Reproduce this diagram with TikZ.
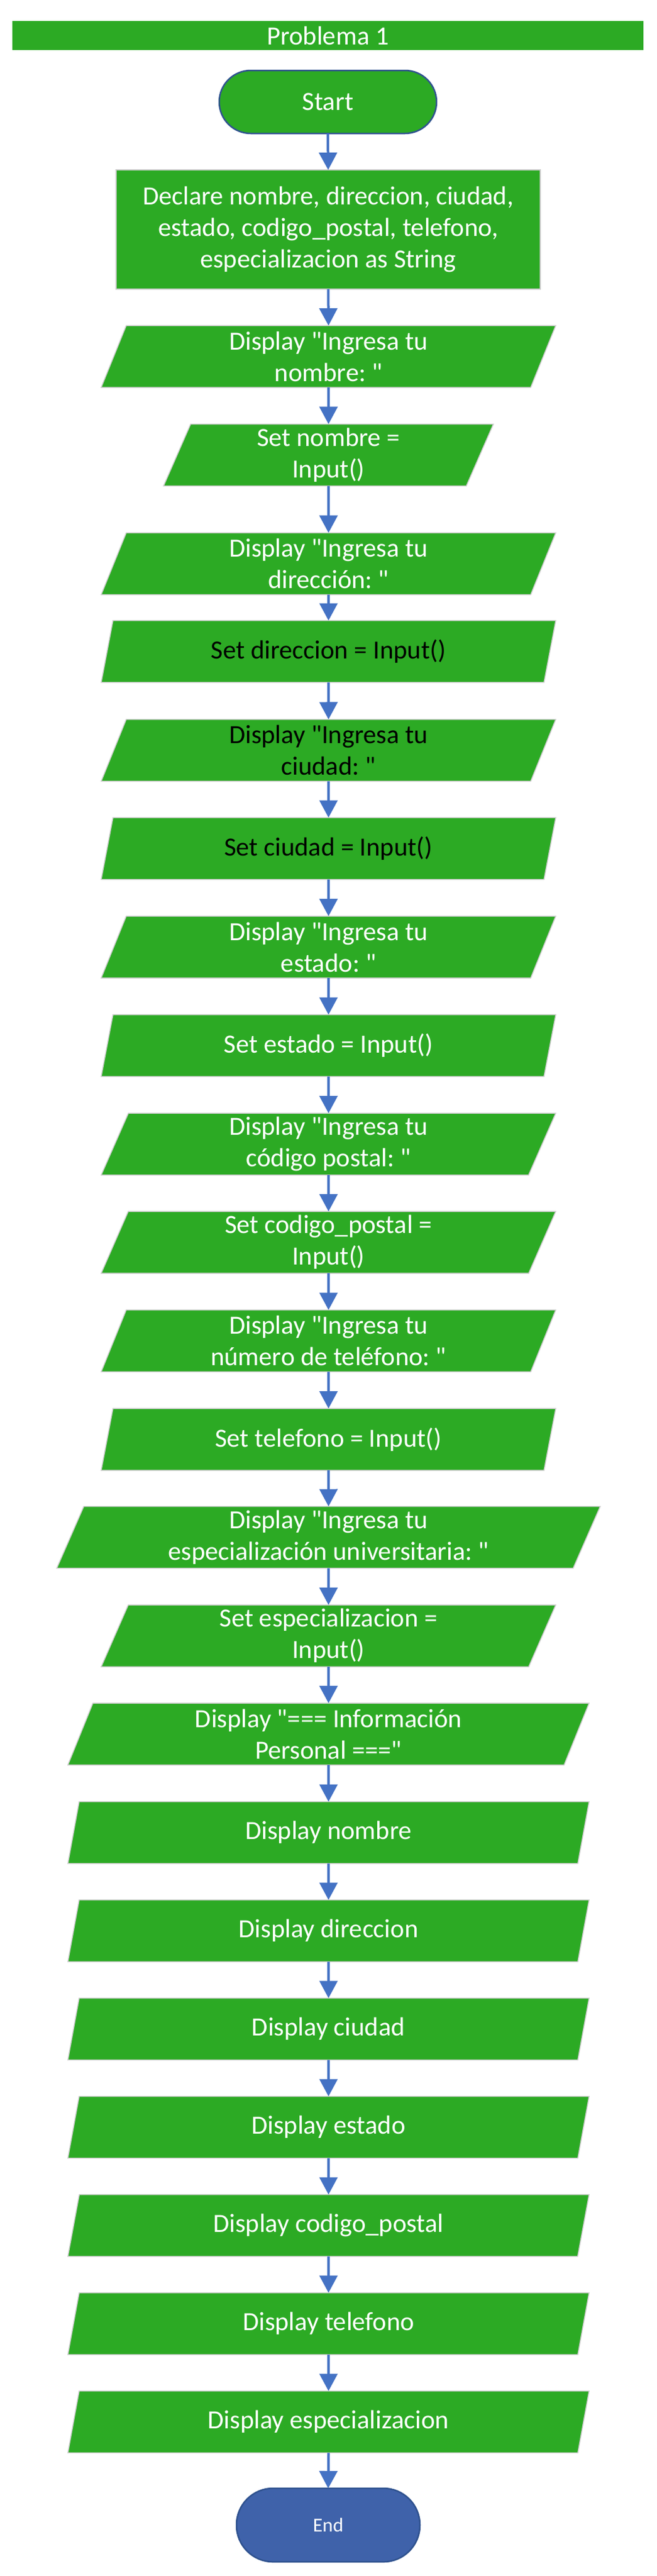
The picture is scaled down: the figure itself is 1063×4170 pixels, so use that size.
\documentclass[tikz,border=0pt]{standalone}
\usepackage{fontspec}
\setmainfont{Carlito}[Ligatures=TeXOff]
\usetikzlibrary{shapes.geometric,arrows.meta}
\definecolor{flowgreen}{RGB}{44,170,36}
\definecolor{flowblue}{RGB}{68,114,196}
\definecolor{endblue}{RGB}{63,98,170}
\definecolor{edgeblue}{RGB}{47,82,143}
\frenchspacing

\begin{document}
\begin{tikzpicture}[x=1pt,y=1pt,
  every node/.style={inner sep=0pt, outer sep=0pt, align=center, text=white,
    font=\fontsize{42.5}{51}\selectfont},
  box/.style={rectangle, fill=flowgreen, draw=black!20, line width=1.5pt},
  io/.style={trapezium, trapezium left angle=63.4, trapezium right angle=116.6,
    trapezium stretches body, fill=flowgreen, draw=black!20, line width=1.5pt,
    minimum height=100pt, minimum width=#1},
  io/.default=736pt,
  term/.style={rectangle, rounded corners=#1, line width=2.5pt, draw=edgeblue},
  flow/.style={draw=flowblue, line width=4pt, -{Triangle[length=28pt,width=29pt]}}]
\fill [white] (0,0) rectangle (1063,-4170);
\useasboundingbox (0,0) rectangle (1063,-4170);
% title and start
\node (title) [box, draw=none, minimum width=1022pt, minimum height=47pt] at (531,-57.5) {Problema 1};
\node (start) [term=51pt, fill=flowgreen, minimum width=352pt, minimum height=102pt] at (531,-165) {Start};
\node (decl) [box, minimum width=687pt, minimum height=193pt] at (531.5,-371.5) {Declare nombre, direccion, ciudad,\\ estado, codigo\_postal, telefono,\\ especializacion as String};
% reading the data
\node (inNombre) [io] at (532,-577) {Display "Ingresa tu\\ nombre: "};
\node (setNombre) [io=534pt] at (532,-736.5) {Set nombre =\\ Input()};
\node (inDireccion) [io] at (532,-912.5) {Display "Ingresa tu\\ dirección: "};
\node (setDireccion) [io, text=black] at (532,-1054.5) {Set direccion = Input()};
\node (inCiudad) [io, text=black] at (532,-1214.5) {Display "Ingresa tu\\ ciudad: "};
\node (setCiudad) [io, text=black] at (532,-1373.5) {Set ciudad = Input()};
\node (inEstado) [io] at (532,-1533) {Display "Ingresa tu\\ estado: "};
\node (setEstado) [io] at (532,-1692.5) {Set estado = Input()};
\node (inCodigo) [io] at (532,-1852) {Display "Ingresa tu\\ código postal: "};
\node (setCodigo) [io] at (532,-2011) {Set codigo\_postal =\\ Input()};
\node (inTelefono) [io] at (532,-2170.5) {Display "Ingresa tu\\ número de teléfono: "};
\node (setTelefono) [io] at (532,-2330) {Set telefono = Input()};
\node (inEspec) [io=880pt] at (532,-2488.5) {Display "Ingresa tu\\ especialización universitaria: "};
\node (setEspec) [io] at (532,-2648) {Set especializacion =\\ Input()};
% printing the data
\node (outHeader) [io=844pt] at (532,-2807) {Display "=== Información\\ Personal ==="};
\node (outNombre) [io=844pt] at (532,-2966.5) {Display nombre};
\node (outDireccion) [io=844pt] at (532,-3125.5) {Display direccion};
\node (outCiudad) [io=844pt] at (532,-3284.5) {Display ciudad};
\node (outEstado) [io=844pt] at (532,-3443.5) {Display estado};
\node (outCodigo) [io=844pt] at (532,-3602.5) {Display codigo\_postal};
\node (outTelefono) [io=844pt] at (532,-3761.5) {Display telefono};
\node (outEspec) [io=844pt] at (532,-3920.5) {Display especializacion};
\node (end) [term=59pt, fill=endblue, minimum width=297pt, minimum height=119pt, font=\fontsize{32}{38}\selectfont] at (531.5,-4087.5) {End};
% arrows
\draw [flow] (start.south) -- (decl.north);
\draw [flow] (decl.south) -- (inNombre.north);
\draw [flow] (inNombre.south) -- (setNombre.north);
\draw [flow] (setNombre.south) -- (inDireccion.north);
\draw [flow] (inDireccion.south) -- (setDireccion.north);
\draw [flow] (setDireccion.south) -- (inCiudad.north);
\draw [flow] (inCiudad.south) -- (setCiudad.north);
\draw [flow] (setCiudad.south) -- (inEstado.north);
\draw [flow] (inEstado.south) -- (setEstado.north);
\draw [flow] (setEstado.south) -- (inCodigo.north);
\draw [flow] (inCodigo.south) -- (setCodigo.north);
\draw [flow] (setCodigo.south) -- (inTelefono.north);
\draw [flow] (inTelefono.south) -- (setTelefono.north);
\draw [flow] (setTelefono.south) -- (inEspec.north);
\draw [flow] (inEspec.south) -- (setEspec.north);
\draw [flow] (setEspec.south) -- (outHeader.north);
\draw [flow] (outHeader.south) -- (outNombre.north);
\draw [flow] (outNombre.south) -- (outDireccion.north);
\draw [flow] (outDireccion.south) -- (outCiudad.north);
\draw [flow] (outCiudad.south) -- (outEstado.north);
\draw [flow] (outEstado.south) -- (outCodigo.north);
\draw [flow] (outCodigo.south) -- (outTelefono.north);
\draw [flow] (outTelefono.south) -- (outEspec.north);
\draw [flow] (outEspec.south) -- (end.north);
\end{tikzpicture}
\end{document}
